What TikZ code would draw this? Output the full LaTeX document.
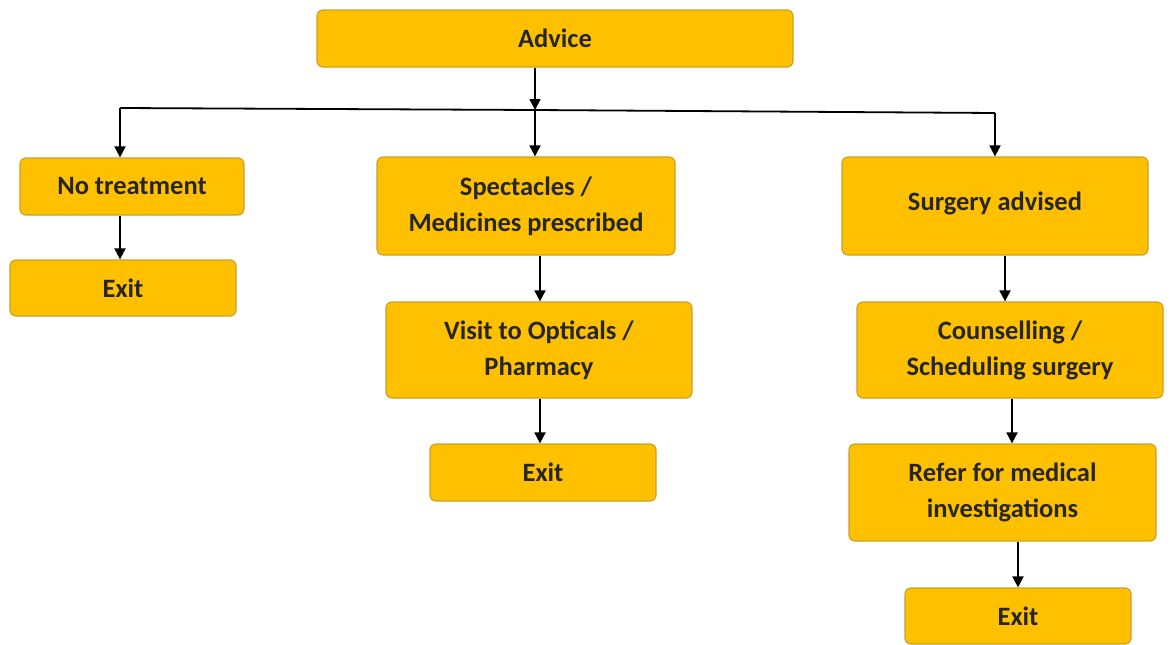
\documentclass[tikz,border=0pt]{standalone}
\usepackage{fontspec}
\setmainfont{Carlito}
\usetikzlibrary{arrows.meta}
\definecolor{boxfill}{HTML}{FFC000}
\definecolor{boxline}{HTML}{C9A227}
\tikzset{
  box/.style={draw=boxline, fill=boxfill, line width=1.2pt, rounded corners=6pt,
    font=\bfseries\fontsize{26.5}{36}\selectfont, align=center, inner sep=0pt, text=black!85},
  conn/.style={line width=1.8pt, -{Triangle[length=11pt,width=11pt]}},
  plain/.style={line width=1.8pt}
}
\begin{document}
\begin{tikzpicture}[x=1pt,y=-1pt]
\useasboundingbox (0,0) rectangle (1170,645);
\node[box, minimum width=476pt, minimum height=57pt] (advice) at (555,38.5) {\raisebox{-2pt}{Advice}};
\node[box, minimum width=224pt, minimum height=57pt] (none) at (132,186.5) {\raisebox{-2pt}{No treatment}};
\node[box, minimum width=226pt, minimum height=56pt] (exit1) at (123,288) {\raisebox{-2pt}{Exit}};
\node[box, minimum width=298pt, minimum height=98pt] (spec) at (526,206) {\raisebox{-2pt}{Spectacles /}\\\raisebox{-2pt}{Medicines prescribed}};
\node[box, minimum width=306pt, minimum height=96pt] (visit) at (539,350) {\raisebox{-2pt}{Visit to Opticals /}\\\raisebox{-2pt}{Pharmacy}};
\node[box, minimum width=226pt, minimum height=57pt] (exit2) at (543,472.5) {\raisebox{-2pt}{Exit}};
\node[box, minimum width=306pt, minimum height=98pt] (surg) at (995,206) {\raisebox{9pt}{Surgery advised}};
\node[box, minimum width=306pt, minimum height=96pt] (couns) at (1010,350) {\raisebox{-2pt}{Counselling /}\\\raisebox{-2pt}{Scheduling surgery}};
\node[box, minimum width=307pt, minimum height=97pt] (refer) at (1002.5,492.5) {\raisebox{-2pt}{Refer for medical}\\\raisebox{-2pt}{investigations}};
\node[box, minimum width=226pt, minimum height=56pt] (exit3) at (1018,616) {\raisebox{-2pt}{Exit}};
\coordinate (j) at (535,110);
\coordinate (jl) at (120,108);
\coordinate (jr) at (995,113);
\draw[conn] (advice.south -| j) -- (j);
\draw[plain] (jl) -- (j) -- (jr);
\draw[conn] (jl) -- (jl |- none.north);
\draw[conn] (j) -- (j |- spec.north);
\draw[conn] (jr) -- (jr |- surg.north);
\draw[conn] (none.south -| 120,0) -- (exit1.north -| 120,0);
\draw[conn] (spec.south -| 540,0) -- (visit.north -| 540,0);
\draw[conn] (visit.south -| 540,0) -- (exit2.north -| 540,0);
\draw[conn] (surg.south -| 1005,0) -- (couns.north -| 1005,0);
\draw[conn] (couns.south -| 1012,0) -- (refer.north -| 1012,0);
\draw[conn] (refer.south -| 1018,0) -- (exit3.north -| 1018,0);
\end{tikzpicture}
\end{document}
